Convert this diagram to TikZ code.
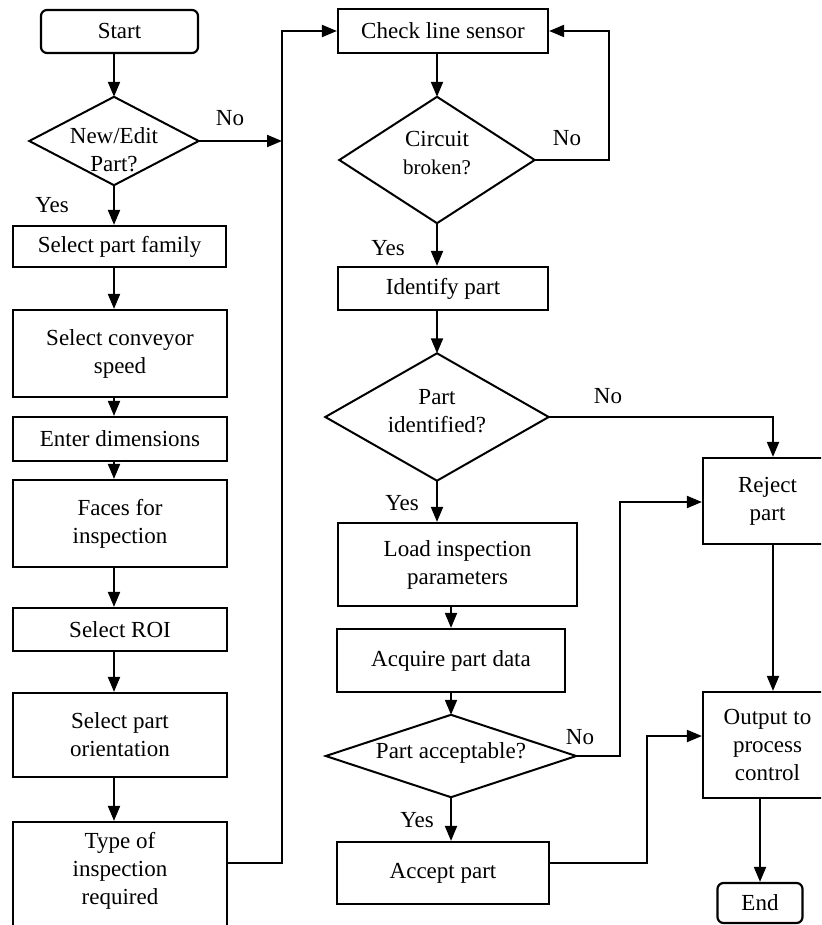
\documentclass[tikz,border=0pt]{standalone}
\usepackage{fontspec}
\setmainfont{Liberation Serif}
\usetikzlibrary{arrows.meta,calc}

\begin{document}
\begin{tikzpicture}[x=1pt,y=-1pt,
  font=\fontsize{23}{28}\selectfont,
  every node/.style={inner sep=0pt, align=center},
  procbox/.style n args={2}{rectangle, draw, line width=2.2pt,
    minimum width=#1pt, minimum height=#2pt},
  termbox/.style n args={2}{rectangle, draw, line width=2.2pt, rounded corners=6pt,
    minimum width=#1pt, minimum height=#2pt},
  decision/.style n args={2}{rectangle, minimum width=#1pt, minimum height=#2pt},
  link/.style={line width=2pt},
  arr/.style={line width=2pt, -{Triangle[length=15pt,width=12pt]}},
]
\useasboundingbox (0,0) rectangle (821,925);
\clip (0,0) rectangle (821,925);

% guide coordinates for the connector runs
\coordinate (lx)    at (114,0);
\coordinate (bus)   at (282,0);
\coordinate (loopx) at (609,0);
\coordinate (rx)    at (773,0);
\coordinate (jog1)  at (620,0);
\coordinate (jog2)  at (647,736);
\coordinate (tap)   at (0,863);
\coordinate (rin)   at (0,502);

% set-up column
\node[termbox={157}{43}] (start) at (119.5,31.5) {Start};
\node[decision={169}{88}] (newedit) at (114,141) {};
\node (newedit-t) at (114,150) {New/Edit\\Part?};
\node[procbox={213}{41}] (family) at (119.5,246.5) {Select part family};
\node[procbox={214}{87}] (conveyor) at (120,353.5) {Select conveyor\\speed};
\node[procbox={214}{44}] (enterdim) at (120,439) {Enter dimensions};
\node[procbox={214}{87}] (faces) at (120,523.5) {Faces for\\inspection};
\node[procbox={214}{43}] (roi) at (120,629.5) {Select ROI};
\node[procbox={214}{84}] (orient) at (120,735) {Select part\\orientation};
\node[procbox={214}{118}] (type) at (120,881) {};
\node (type-t) at (120,871) {Type of\\inspection\\required};

% inspection column
\node[procbox={210}{44}] (check) at (443,31) {Check line sensor};
\node[decision={195}{126}] (circuit) at (437,160) {};
\node (circuit-t) at (437,153) {Circuit\\{\fontsize{21}{28}\selectfont broken?}};
\node[procbox={210}{43}] (identify) at (443,288.5) {Identify part};
\node[decision={223}{127}] (partid) at (437,417) {};
\node (partid-t) at (437,411) {Part\\identified?};
\node[procbox={239}{83}] (load) at (457.5,564.5) {Load inspection\\parameters};
\node[procbox={228}{63}] (acquire) at (451,660.5) {Acquire part data};
\node[decision={250}{82}] (accept) at (451,756) {};
\node (accept-t) at (451,753) {Part acceptable?};
\node[procbox={212}{62}] (acceptbox) at (443,873) {Accept part};

% outcome column
\node[procbox={129}{86}] (reject) at (767.5,501) {Reject\\part};
\node[procbox={129}{106}] (output) at (767.5,745) {Output to\\process\\control};
\node[termbox={85}{40}] (end) at (760,903) {End};

% decision outlines
\foreach \d in {newedit,circuit,partid,accept}
  \draw[link] (\d.north) -- (\d.east) -- (\d.south) -- (\d.west) -- cycle;

% branch labels
\node (no1)  at (230,118) {No};
\node (yes1) at (52,205)  {Yes};
\node (no2)  at (567,138) {No};
\node (yes2) at (388,248) {Yes};
\node (no3)  at (608,396) {No};
\node (yes3) at (402,503) {Yes};
\node (no4)  at (580,737) {No};
\node (yes4) at (417,820) {Yes};

% set-up flow
\draw[arr] (start.south -| lx) -- (newedit.north);
\draw[arr] (newedit.south) -- (family.north -| lx);
\foreach \a/\b in {family/conveyor, conveyor/enterdim, enterdim/faces,
                   faces/roi, roi/orient, orient/type}
  \draw[arr] (\a.south -| lx) -- (\b.north -| lx);
\draw[arr] (type.east |- tap) -| (bus |- check.west) -- (check.west);
\draw[arr] (newedit.east) -- (newedit.east -| bus);

% inspection flow
\draw[arr] (check.south -| circuit.north) -- (circuit.north);
\draw[arr] (circuit.east) -| (loopx |- check.east) -- (check.east);
\draw[arr] (circuit.south) -- (circuit.south |- identify.north);
\draw[arr] (identify.south -| partid.north) -- (partid.north);
\draw[arr] (partid.south) -- (partid.south |- load.north);
\draw[arr] (load.south -| accept.north) -- (acquire.north -| accept.north);
\draw[arr] (acquire.south -| accept.north) -- (accept.north);
\draw[arr] (accept.south) -- (accept.south |- acceptbox.north);

% outcomes
\draw[arr] (partid.east) -| (rx |- reject.north);
\draw[arr] (accept.east) -| (jog1 |- rin) -- (reject.west |- rin);
\draw[arr] (acceptbox.east |- tap) -| (jog2) -- (jog2 -| output.west);
\draw[arr] (reject.south -| rx) -- (output.north -| rx);
\draw[arr] (output.south -| end.north) -- (end.north);
\end{tikzpicture}
\end{document}
